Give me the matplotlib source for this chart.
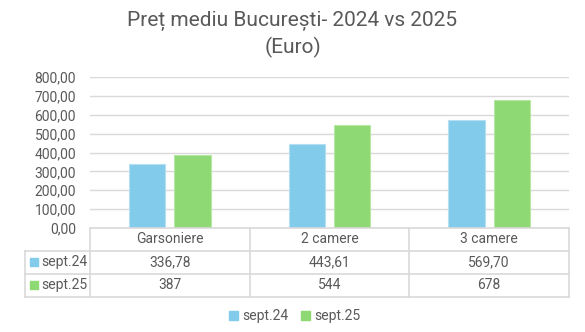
import matplotlib.pyplot as plt

categories = ["Garsoniere", "2 camere", "3 camere"]
series_names = ["sept.24", "sept.25"]
sept24 = [336.78, 443.61, 569.70]
sept25 = [387, 544, 678]
yticks = [0, 100, 200, 300, 400, 500, 600, 700, 800]

colors = ["#83CBEB", "#8ED973"]
text_col = "#595959"
grid_col = "#D9D9D9"

plt.rcParams["font.family"] = ["Roboto", "DejaVu Sans"]

W, H = 585, 332
fig = plt.figure(figsize=(W / 100, H / 100), dpi=100)

# pixel layout
x0, x1 = 90, 569
y_top, y_zero = 77, 228
lab_x = 25
row_y = [228, 251, 274, 297]


def fx(px):
    return px / W


def fy(py):
    return 1 - py / H


ax = fig.add_axes([fx(x0), fy(y_zero), fx(x1) - fx(x0), fy(y_top) - fy(y_zero)])
n = len(categories)
xs = [i + 0.5 for i in range(n)]
bw = 0.228
off = 0.142
ax.bar([x - off for x in xs], sept24, width=bw, color=colors[0], edgecolor="#B5E0F3", linewidth=0.8, zorder=3)
ax.bar([x + off for x in xs], sept25, width=bw, color=colors[1], edgecolor="#B6E8A5", linewidth=0.8, zorder=3)
ax.set_xlim(0, n)
ax.set_ylim(0, 800)
ax.set_yticks(yticks)
ax.set_yticklabels([f"{v:.2f}".replace(".", ",") for v in yticks], fontsize=10, color=text_col)
ax.set_xticks([])
ax.tick_params(axis="y", length=0, pad=10)
ax.grid(axis="y", color=grid_col, linewidth=1, zorder=0)
for s in ax.spines.values():
    s.set_visible(False)

# data table under the chart
tax = fig.add_axes([fx(lab_x), fy(row_y[-1]), fx(x1) - fx(lab_x), fy(row_y[0]) - fy(row_y[-1])])
unit = (x1 - x0) / n
tax.set_xlim(-(x0 - lab_x) / unit, n)
tax.set_ylim(row_y[-1], row_y[0])
tax.axis("off")
lab_left = -(x0 - lab_x) / unit
lw = 1.2

# horizontal lines
tax.plot([0, n], [row_y[0], row_y[0]], color=grid_col, lw=lw, clip_on=False)
for yy in row_y[1:]:
    tax.plot([lab_left, n], [yy, yy], color=grid_col, lw=lw, clip_on=False)
# vertical lines
tax.plot([lab_left, lab_left], [row_y[1], row_y[-1]], color=grid_col, lw=lw, clip_on=False)
for i in range(n + 1):
    tax.plot([i, i], [row_y[0], row_y[-1]], color=grid_col, lw=lw, clip_on=False)

fs = 10
for i, c in enumerate(categories):
    tax.text(xs[i], (row_y[0] + row_y[1]) / 2, c, ha="center", va="center", fontsize=fs, color=text_col)
rows = [[f"{v:.2f}".replace(".", ",") for v in sept24], [str(v) for v in sept25]]
for r, (name, vals) in enumerate(zip(series_names, rows)):
    yc = (row_y[r + 1] + row_y[r + 2]) / 2
    tax.scatter([lab_left + 0.055], [yc], marker="s", s=30, color=colors[r], clip_on=False)
    tax.text(lab_left + 0.1, yc, name, ha="left", va="center", fontsize=fs, color=text_col)
    for i, v in enumerate(vals):
        tax.text(xs[i], yc, v, ha="center", va="center", fontsize=fs, color=text_col)

# legend
handles = [plt.Rectangle((0, 0), 1, 1, color=c) for c in colors]
fig.legend(handles, series_names, loc="center", bbox_to_anchor=(fx(295), fy(316)), ncol=2,
           frameon=False, fontsize=fs, handlelength=0.6, handleheight=0.6, handletextpad=0.35,
           columnspacing=0.9, labelcolor=text_col)

fig.text(0.5, fy(21), "Preț mediu București- 2024 vs 2025", ha="center", va="center", fontsize=15, color=text_col)
fig.text(0.5, fy(47), "(Euro)", ha="center", va="center", fontsize=15, color=text_col)

fig.savefig("out.png", dpi=100)
